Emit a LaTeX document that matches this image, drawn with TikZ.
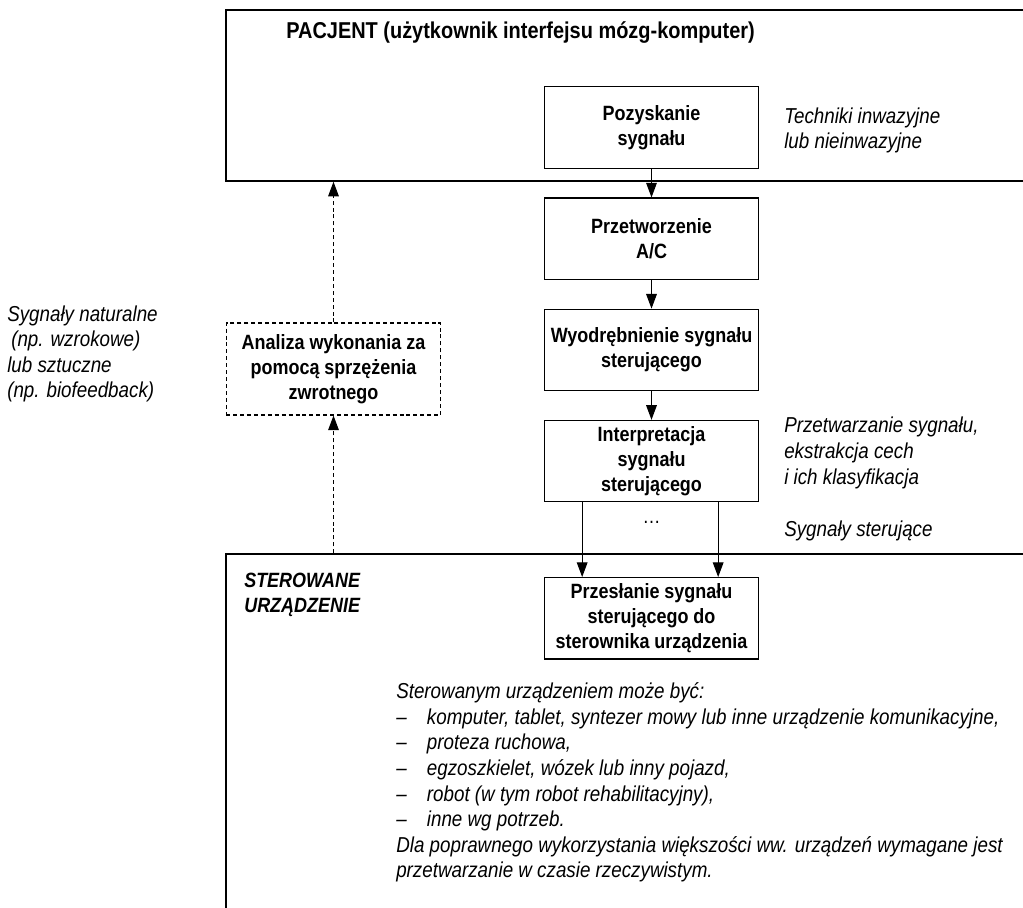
\documentclass[tikz,border=0pt]{standalone}
\usepackage{fontspec}
\setmainfont{Liberation Sans}[FakeStretch=0.87]
\usetikzlibrary{positioning, arrows.meta}
\newcommand{\boxfont}{\fontsize{15.5pt}{18.8pt}\selectfont}
\newcommand{\notefont}{\fontsize{16.2pt}{19.2pt}\selectfont}
\tikzstyle{frame} = [rectangle, draw=black, line width=1.1pt, minimum width=610.5pt, inner sep=0pt]
\tikzstyle{process} = [rectangle, minimum width=161pt, minimum height=61pt, text centered, align=center, draw=black, line width=0.9pt, inner sep=2pt, font=\boxfont\bfseries]
\tikzstyle{feedback} = [process, line width=0.8pt, dash pattern=on 3pt off 2.2pt, minimum height=69pt]
\tikzstyle{note} = [anchor=west, align=left, inner sep=0pt, font=\notefont\itshape]
\tikzstyle{arrow} = [line width=0.8pt, ->, >={Triangle[length=11pt,width=8pt]}]
\tikzstyle{dasharrow} = [arrow, dash pattern=on 3pt off 2.2pt]
\begin{document}
\begin{tikzpicture}[x=0.75pt, y=-0.75pt, node distance=21.5pt]
            \clip (0,0) rectangle (1023,907);
            \node (patient) [frame, minimum height=128.25pt] at (633,95.5) {};
            \node (device) [frame, minimum height=274.5pt] at (633,737) {};
            \node (title) [anchor=west, inner sep=0pt, font=\fontsize{17.2pt}{20pt}\selectfont\bfseries] at (286,33) {PACJENT (użytkownik interfejsu mózg-komputer)};
            \node (acq) [process] at (651.5,127.5) {Pozyskanie\\sygnału};
            \node (conv) [process, below=of acq] {Przetworzenie\\A/C};
            \node (extract) [process, below=of conv] {Wyodrębnienie sygnału\\sterującego};
            \node (interp) [process, below=of extract] {Interpretacja\\sygnału\\sterującego};
            \node (send) [process, below=56pt of interp] {Przesłanie sygnału\\sterującego do\\sterownika urządzenia};
            \node (dots) [font=\boxfont] at (651.5,522) {…};
            \node (feedback) [feedback] at (333.5,369) {Analiza wykonania za\\pomocą sprzężenia\\zwrotnego};
            \node (techniques) [note] at (784,130.5) {Techniki inwazyjne\\lub nieinwazyjne};
            \node (processing) [note] at (784,453) {Przetwarzanie sygnału,\\ekstrakcja cech\\i ich klasyfikacja};
            \node (signals) [note] at (784,531) {Sygnały sterujące};
            \node (natural) [note] at (7,354) {Sygnały naturalne\\\hspace{3pt}(np. wzrokowe)\\lub sztuczne\\(np. biofeedback)};
            \node (devtitle) [note, font=\boxfont\bfseries\itshape] at (244,595) {STEROWANE\\URZĄDZENIE};
            \node (devlist) [note] at (396,782.5) {Sterowanym urządzeniem może być:\\
                \makebox[23pt][l]{–}komputer, tablet, syntezer mowy lub inne urządzenie komunikacyjne,\\
                \makebox[23pt][l]{–}proteza ruchowa,\\
                \makebox[23pt][l]{–}egzoszkielet, wózek lub inny pojazd,\\
                \makebox[23pt][l]{–}robot (w tym robot rehabilitacyjny),\\
                \makebox[23pt][l]{–}inne wg potrzeb.\\
                Dla poprawnego wykorzystania większości ww. urządzeń wymagane jest\\
                przetwarzanie w czasie rzeczywistym.};

            \draw [arrow] (acq) -- (conv);
            \draw [arrow] (conv) -- (extract);
            \draw [arrow] (extract) -- (interp);
            \draw [arrow] ([xshift=-52pt]interp.south) -- ([xshift=-52pt]send.north);
            \draw [arrow] ([xshift=50pt]interp.south) -- ([xshift=50pt]send.north);
            \draw [dasharrow] (feedback) -- (feedback |- patient.south);
            \draw [dasharrow] (feedback |- device.north) -- (feedback);
        \end{tikzpicture}
\end{document}
